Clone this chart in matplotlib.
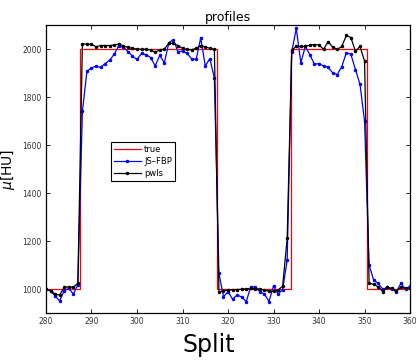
import numpy as np
import matplotlib
matplotlib.use("Agg")
import matplotlib.pyplot as plt

# pixel index along the profile
x = np.arange(280, 361)

# true step profile (breakpoints)
true_x = [280, 287.5, 287.5, 317.5, 317.5, 333.9, 333.9, 350.5, 350.5, 360]
true_y = [1000, 1000, 2000, 2000, 1000, 1000, 2000, 2000, 1000, 1000]

# JS-FBP reconstruction
jsfbp = [999, 993, 971, 951, 993, 1003, 979, 1017,                      # 280-287
         1740, 1908, 1922, 1929, 1924, 1940, 1954, 1979, 2015, 2008,    # 288-297
         1990, 1971, 1957, 1982, 1977, 1965, 1930, 1974, 1943, 2026,    # 298-307
         2040, 1989, 1992, 1982, 1960, 1957, 2047, 1930, 1960, 1880,    # 308-317
         1065, 968, 989, 958, 975, 967, 947, 1010, 1007, 989,           # 318-327
         979, 948, 1013, 979, 998, 1121,                                # 328-333
         1989, 2086, 1943, 2012, 1975, 1937, 1940, 1929, 1924, 1901,    # 334-343
         1894, 1927, 1985, 1978, 1915, 1853, 1700,                      # 344-350
         1100, 1037, 1024, 999, 1007, 999, 989, 1024, 999, 1012]        # 351-360

# pwls reconstruction
pwls = [999, 993, 979, 975, 1007, 1010, 1007, 1024,                      # 280-287
        2021, 2021, 2020, 2010, 2015, 2015, 2015, 2017, 2021, 2014,      # 288-297
        2007, 2003, 2000, 2000, 1999, 1997, 1987, 1997, 2000, 2024,      # 298-307
        2024, 2015, 2003, 1999, 1997, 2003, 2015, 2010, 2003, 1999,      # 308-317
        987, 993, 995, 997, 998, 999, 1001, 1003, 1001, 1000,            # 318-327
        996, 991, 990, 995, 1012, 1211,                                  # 328-333
        1996, 2011, 2011, 2011, 2017, 2019, 2017, 1999, 2031, 2008,      # 334-343
        1999, 2011, 2057, 2048, 1991, 2011, 1950,                        # 344-350
        1026, 1019, 1010, 989, 1007, 1003, 993, 1007, 1003, 1003]        # 351-360

fig = plt.figure(figsize=(4.18, 3.64), dpi=100)
ax = fig.add_axes([0.110, 0.140, 0.871, 0.791])

ax.plot(true_x, true_y, color='#ff0000', lw=0.9, label='true')
ax.plot(x, jsfbp, color='#0000ff', lw=0.9, marker='.', ms=3, label='JS\u2013FBP')
ax.plot(x, pwls, color='black', lw=0.9, marker='.', ms=3, label='pwls')

ax.set_xlim(280, 360)
ax.set_ylim(900, 2100)
ax.set_xticks(np.arange(280, 361, 10))
ax.set_yticks(np.arange(1000, 2001, 200))
ax.tick_params(direction='in', top=True, right=True, labelsize=5.5,
               labelcolor='#333333', length=3, width=0.6, pad=3)
for s in ax.spines.values():
    s.set_linewidth(0.9)

ax.set_title('profiles', fontsize=9, pad=3)
ax.set_ylabel(r'$\mu$[HU]', fontsize=10)
ax.yaxis.set_label_coords(-0.08, 0.5)

leg = ax.legend(loc='upper left', bbox_to_anchor=(0.179, 0.594), fontsize=6,
                numpoints=1, handlelength=3.2, handletextpad=0.4,
                borderpad=0.35, labelspacing=0.35, fancybox=False,
                framealpha=1, borderaxespad=0)
leg.get_frame().set_edgecolor('black')
leg.get_frame().set_linewidth(0.8)

fig.text(0.5, 0.052, 'Split', ha='center', va='center', fontsize=17)

fig.savefig('out.png', dpi=100)
